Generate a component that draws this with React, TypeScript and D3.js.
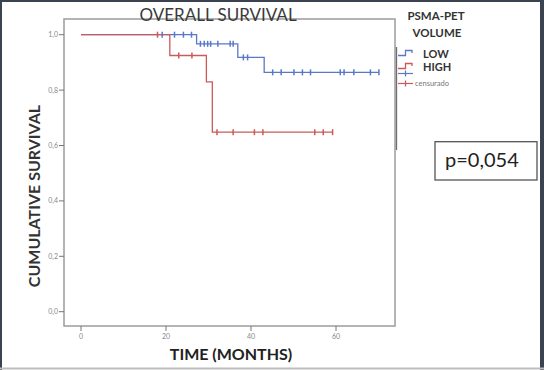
import * as d3 from "d3";

// Kaplan-Meier steps (time in months, survival after drop)
const lowDropTimes = [27.2, 36.9, 43.1];
const lowDropLevels = [0.967, 0.918, 0.864];
const lowCensored = [19.1, 22.0, 24.1, 26.0, 28.1, 29.0, 29.8, 30.5, 32.2, 35.1, 35.8, 38.2, 39.2, 45.1, 47.1, 50.1, 52.1, 54.0, 61.0, 61.9, 64.2, 68.1, 70.1];
const lowEnd = 70.1;

const highDropTimes = [20.9, 29.5, 30.9];
const highDropLevels = [0.925, 0.83, 0.648];
const highCensored = [18.0, 23.0, 26.1, 32.0, 35.8, 40.8, 42.8, 55.0, 57.0, 59.2];
const highEnd = 59.3;

const xTicks = [0, 20, 40, 60];
const yTicks = [0, 0.2, 0.4, 0.6, 0.8, 1.0];
const yTickLabels = ["0,0", "0,2", "0,4", "0,6", "0,8", "1,0"];

const BLUE = "#5a78c8";
const RED = "#cc5a5a";
const FONT = "Lato, 'Open Sans', sans-serif";

function stepPoints(times: number[], levels: number[], end: number): [number, number][] {
  const pts: [number, number][] = [[0, 1]];
  times.forEach((t, i) => pts.push([t, levels[i]]));
  pts.push([end, levels[levels.length - 1]]);
  return pts;
}

function levelAt(times: number[], levels: number[], t: number) {
  let s = 1;
  times.forEach((d, i) => {
    if (t >= d) s = levels[i];
  });
  return s;
}

export default function App() {
  const width = 544;
  const height = 370;

  const x = d3.scaleLinear().domain([0, 70]).range([81, 378.5]);
  const y = d3.scaleLinear().domain([0, 1]).range([311.7, 34.7]);

  const line = d3
    .line<[number, number]>()
    .x((d) => x(d[0]))
    .y((d) => y(d[1]))
    .curve(d3.curveStepAfter);

  const groups = [
    { color: BLUE, times: lowDropTimes, levels: lowDropLevels, cens: lowCensored, end: lowEnd },
    { color: RED, times: highDropTimes, levels: highDropLevels, cens: highCensored, end: highEnd },
  ];

  const frame = { left: 64, top: 19, right: 395, bottom: 326 };

  return (
    <svg width={width} height={height} style={{ position: "absolute", left: 0, top: 0, background: "#fff" }}>
      {/* outer picture border */}
      <rect x={0} y={0} width={width} height={height} fill="#fff" />
      <line x1={1} y1={0} x2={1} y2={height} stroke="#3c4350" strokeWidth={2} />
      <line x1={0} y1={1} x2={width} y2={1} stroke="#3c4350" strokeWidth={2} />
      <line x1={542} y1={0} x2={542} y2={height} stroke="#3c4350" strokeWidth={4} />
      <line x1={0} y1={368.5} x2={width} y2={368.5} stroke="#bdbdbd" strokeWidth={2} />

      {/* plot frame */}
      <rect
        x={frame.left}
        y={frame.top}
        width={frame.right - frame.left}
        height={frame.bottom - frame.top}
        fill="none"
        stroke="#9c9c9c"
        strokeWidth={1.5}
      />
      <line x1={396.5} y1={47} x2={396.5} y2={150} stroke="#6e6e6e" strokeWidth={1.3} />

      {/* y axis ticks */}
      {yTicks.map((t, i) => (
        <g key={t} transform={`translate(${frame.left},${y(t)})`}>
          <line x1={-5} x2={0} stroke="#777" strokeWidth={1} />
          <text x={-6} dy="0.35em" textAnchor="end" fontSize={7} fill="#888" fontFamily={FONT}>
            {yTickLabels[i]}
          </text>
        </g>
      ))}

      {/* x axis ticks */}
      {xTicks.map((t) => (
        <g key={t} transform={`translate(${x(t)},${frame.bottom})`}>
          <line y1={0} y2={5} stroke="#777" strokeWidth={1} />
          <text y={13} textAnchor="middle" fontSize={7} fill="#888" fontFamily={FONT}>
            {t}
          </text>
        </g>
      ))}

      {/* survival curves */}
      {groups.map((g) => (
        <path
          key={g.color}
          d={line(stepPoints(g.times, g.levels, g.end)) || ""}
          fill="none"
          stroke={g.color}
          strokeWidth={1.3}
        />
      ))}
      {groups.map((g) =>
        g.cens.map((c, i) => {
          const cy = y(levelAt(g.times, g.levels, c));
          return (
            <line
              key={g.color + i}
              x1={x(c)}
              x2={x(c)}
              y1={cy - 3}
              y2={cy + 3}
              stroke={g.color}
              strokeWidth={1.5}
            />
          );
        })
      )}

      {/* titles */}
      <text x={218} y={21} textAnchor="middle" fontSize={17} fill="#3a3a3a" fontFamily={FONT}>
        OVERALL SURVIVAL
      </text>
      <text
        transform="translate(40,196) rotate(-90)"
        textAnchor="middle"
        fontSize={16}
        fontWeight="bold"
        fill="#333"
        fontFamily={FONT}
      >
        CUMULATIVE SURVIVAL
      </text>
      <text x={231} y={360} textAnchor="middle" fontSize={16} fontWeight="bold" fill="#222" fontFamily={FONT}>
        TIME (MONTHS)
      </text>

      {/* legend */}
      <text x={436} y={20} textAnchor="middle" fontSize={11.5} fontWeight="bold" fill="#333" fontFamily={FONT}>
        PSMA-PET
      </text>
      <text x={437} y={37} textAnchor="middle" fontSize={11.5} fontWeight="bold" fill="#333" fontFamily={FONT}>
        VOLUME
      </text>
      <path d="M398,55.5 H405.5 V50.5 H412 V53" fill="none" stroke={BLUE} strokeWidth={1.3} />
      <text x={423} y={58} fontSize={11} fontWeight="bold" fill="#333" fontFamily={FONT}>
        LOW
      </text>
      <path d="M398,68.5 H405.5 V63.5 H412 V66" fill="none" stroke={RED} strokeWidth={1.3} />
      <text x={423} y={71} fontSize={11} fontWeight="bold" fill="#333" fontFamily={FONT}>
        HIGH
      </text>
      <line x1={398} x2={413} y1={73.5} y2={73.5} stroke={BLUE} strokeWidth={1.2} />
      <line x1={405.5} x2={405.5} y1={70.5} y2={76.5} stroke={BLUE} strokeWidth={1.3} />
      <line x1={398} x2={413} y1={83.5} y2={83.5} stroke={RED} strokeWidth={1.2} />
      <line x1={405.5} x2={405.5} y1={80.5} y2={86.5} stroke={RED} strokeWidth={1.3} />
      <text x={415} y={86} fontSize={7.5} fill="#777" fontFamily={FONT}>
        censurado
      </text>

      {/* p value */}
      <rect x={435} y={141.7} width={102} height={38.3} fill="#fff" stroke="#555" strokeWidth={1.3} />
      <text x={445} y={167} fontSize={20} fill="#222" fontFamily={FONT}>
        p=0,054
      </text>
    </svg>
  );
}
